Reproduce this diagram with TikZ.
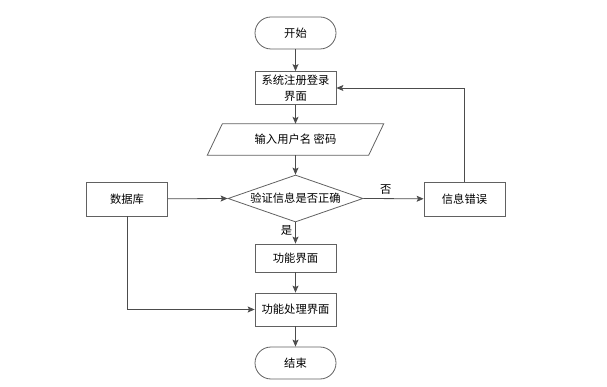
\documentclass[tikz,border=0pt]{standalone}
\usepackage{fontspec}
\setmainfont{Noto Sans CJK SC}
\usetikzlibrary{shapes.geometric,arrows.meta,calc}
\begin{document}
\begin{tikzpicture}[x=1pt,y=-1pt,
  font=\fontsize{11.3}{16}\selectfont,
  box/.style={draw=black!62,line width=0.8pt,minimum width=81pt,minimum height=33pt,inner sep=1pt,align=center},
  term/.style={box,rounded corners=16pt,minimum height=32pt},
  dec/.style={diamond,draw=black!62,line width=0.8pt,minimum width=135pt,minimum height=47pt,inner sep=0pt,aspect=2.87},
  conn/.style={draw=black!70,line width=0.8pt,-{Stealth[length=7pt,width=6pt,inset=1.5pt]}},
  lbl/.style={inner sep=0pt}]
\useasboundingbox (0,0) rectangle (607,387);
\node[term] (start) at (295.5,33) {开始};
\node[box,minimum height=33pt,text width=78pt,inner sep=0pt] (reg) at (295.5,88) {系统注册登录\\界面};
\node[minimum width=146pt,minimum height=31pt,inner sep=0pt] (in) at (295.5,139.5) {输入用户名 密码};
\draw[draw=black!62,line width=0.8pt] ($(in.south west)+(-15,0)$) -- (in.north west) -- ($(in.north east)+(15,0)$) -- (in.south east) -- cycle;
\node[dec] (dia) at (295.5,198.5) {验证信息是否正确};
\node[box,minimum height=34pt] (db) at (127,199) {数据库};
\node[box,minimum height=34pt] (err) at (464.5,199) {信息错误};
\node[box,minimum height=28pt] (func) at (295.5,258) {功能界面};
\node[box,minimum height=33pt] (proc) at (295.5,309.5) {功能处理界面};
\node[term] (end) at (295.5,363) {结束};
\path[conn] (start) -- (reg);
\path[conn] (reg) -- (in);
\path[conn] (in.south) -- (dia.north);
\path[conn] (db) -- (dia.west);
\path[conn] (dia.east) -- node[lbl,pos=0.37,above=4pt] {否} (err);
\path[conn] (err.north) |- (reg.east);
\path[conn] (dia.south) -- node[lbl,pos=0.4,left=3pt] {是} (func);
\path[conn] (func) -- (proc);
\path[conn] (db.south) |- (proc.west);
\path[conn] (proc) -- (end);
\end{tikzpicture}
\end{document}
